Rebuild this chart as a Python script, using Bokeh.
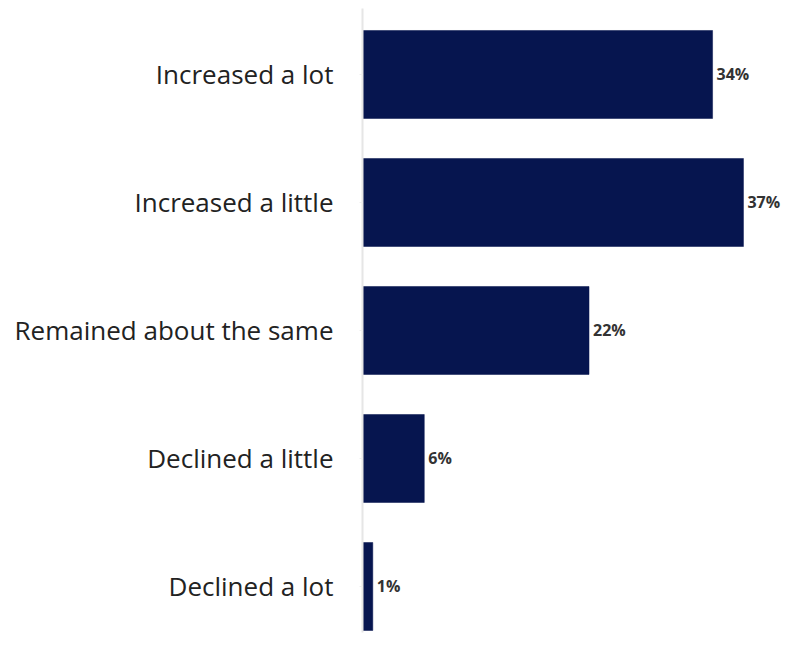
from bokeh.plotting import figure
from bokeh.models import Range1d, FixedTicker, ColumnDataSource
from bokeh.core.properties import value
from bokeh.embed import file_html
from bokeh.resources import INLINE

categories = ["Increased a lot", "Increased a little", "Remained about the same",
              "Declined a little", "Declined a lot"]
percents = [34, 37, 22, 6, 1]
value_labels = ["34%", "37%", "22%", "6%", "1%"]

n = len(categories)
ypos = [n - 1 - i for i in range(n)]

src = ColumnDataSource(dict(y=ypos, v=percents, lab=value_labels, cat=categories))

p = figure(width=786, height=649, output_backend="svg", toolbar_location=None,
           x_range=Range1d(0, 41.18), y_range=Range1d(-0.3594, 4.5156),
           min_border_left=362, min_border_right=0, min_border_top=8,
           min_border_bottom=17, x_axis_location=None)
p.outline_line_color = None
p.xgrid.visible = False
p.ygrid.visible = False

p.hbar(y="y", right="v", left=0, height=0.6875, source=src,
       fill_color="#06154f", line_color="#06154f", line_width=0.5)

p.text(x="v", y="y", text="lab", source=src, x_offset=4,
       text_baseline="middle", text_align="left",
       text_font=value("Open Sans"), text_font_size="16px",
       text_font_style="bold", text_color="#333333")

ax = p.yaxis[0]
ax.ticker = FixedTicker(ticks=ypos)
ax.major_label_overrides = {y: c for y, c in zip(ypos, categories)}
ax.major_label_text_font = "Open Sans"
ax.major_label_text_font_size = "26px"
ax.major_label_text_color = "#222222"
ax.major_label_standoff = 26
ax.major_tick_out = 3
ax.major_tick_in = 0
ax.major_tick_line_color = "#eeeeee"
ax.minor_tick_line_color = None
ax.axis_line_color = "#e6e6e6"
ax.axis_line_width = 2

open("out.html", "w").write(file_html(p, INLINE))
